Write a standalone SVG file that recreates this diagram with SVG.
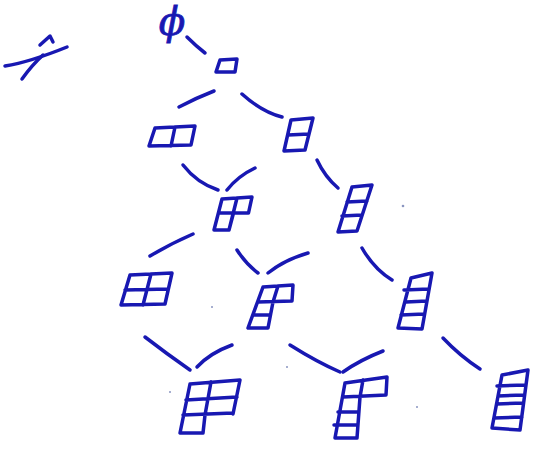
<svg xmlns="http://www.w3.org/2000/svg" width="541" height="450" viewBox="0 0 541 450">
<style>
.ink{fill:none;stroke:#1818b2;stroke-width:3.5;stroke-linecap:round;stroke-linejoin:round}
.lbl{fill:#1818b2;stroke:#1818b2;stroke-width:0.8;font-family:"DejaVu Serif","Liberation Serif",serif;font-style:italic;font-size:39px}
.speck{fill:#8a95c0}
</style>
<rect width="541" height="450" fill="#ffffff"/>
<g id="mark">
<path class="ink" d="M5,66 Q30,62 67,47"/>
<path class="ink" d="M22,79 Q32,65 43,55"/>
<path class="ink" d="M40,45 L50,36 L53,42"/>
</g>
<g id="node-empty">
<text class="lbl" x="172" y="35" text-anchor="middle">ϕ</text>
</g>
<g id="connectors">
<path class="ink" d="M187,37 Q196,46 205,53"/>
<path class="ink" d="M179,107 Q196,98 214,91"/>
<path class="ink" d="M242,94 Q262,112 282,117"/>
<path class="ink" d="M183,165 Q197,183 218,190"/>
<path class="ink" d="M255,168 Q238,176 227,190"/>
<path class="ink" d="M317,160 Q325,177 338,188"/>
<path class="ink" d="M193,234 Q170,244 150,256"/>
<path class="ink" d="M237,250 Q246,264 258,273"/>
<path class="ink" d="M308,253 Q284,260 268,273"/>
<path class="ink" d="M362,248 Q374,269 392,280"/>
<path class="ink" d="M145,337 Q167,354 190,370"/>
<path class="ink" d="M232,345 Q210,353 197,367"/>
<path class="ink" d="M290,345 Q317,362 340,372"/>
<path class="ink" d="M383,351 Q360,360 343,372"/>
<path class="ink" d="M443,338 Q460,356 480,369"/>
</g>
<g id="node-1">
<path class="ink" d="M220,60 L237,59 L235,72 L216,72 Z"/>
</g>
<g id="node-2">
<path class="ink" d="M155,128 L195,126 L191,145 L149,146 Z M175,127 L171,146"/>
</g>
<g id="node-11">
<path class="ink" d="M291,120 L313,118 L305,150 L284,151 Z M288,135 L309,134"/>
</g>
<g id="node-21">
<path class="ink" d="M222,199 L252,197 L248.5,213 L233.5,213 L229,230 L214,230 Z M218.5,213 L248.5,213 M237,198 L229,230"/>
</g>
<g id="node-111">
<path class="ink" d="M352,187 L372,185 L357,231 L338,232 Z M347,202 L367,201 M342,216 L362,215"/>
</g>
<g id="node-22">
<path class="ink" d="M130,275 L172,273 L165,304 L121,305 Z M125,290 L168,289 M151,274 L143,305"/>
</g>
<g id="node-211">
<path class="ink" d="M263,287 L293,285 L292,301 L258,302 M263,287 L248,328 L268,328 L273,302 L278,286 M253,315 L270,315"/>
</g>
<g id="node-1111">
<path class="ink" d="M411,278 L432,273 L422,329 L398,328 Z M404,290 L429,289 M406,302 L427,301 M401,315 L424,314"/>
</g>
<g id="node-221">
<path class="ink" d="M190,384 L240,380 L233,414 M186,400 L237,397 M183,415 L233,413 M190,384 L180,433 L203,433 L205,415 L211,382"/>
</g>
<g id="node-2111">
<path class="ink" d="M345,383 L387,377 L386,395 L343,397 M363,380 L360,397 L357,438 L335,438 L345,383 M338,412 L359,412 M334,425 L358,425"/>
</g>
<g id="node-11111">
<path class="ink" d="M502,375 L528,370 L520,430 L492,428 Z M497,386 L526,385 M498,396 L524,395 M497,404 L523,403 M494,418 L522,417"/>
</g>
<g id="specks">
<circle class="speck" cx="403" cy="206" r="1.3"/>
<circle class="speck" cx="212" cy="307" r="1"/>
<circle class="speck" cx="287" cy="367" r="1"/>
<circle class="speck" cx="417" cy="407" r="1"/>
<circle class="speck" cx="170" cy="392" r="1"/>
</g>
</svg>
